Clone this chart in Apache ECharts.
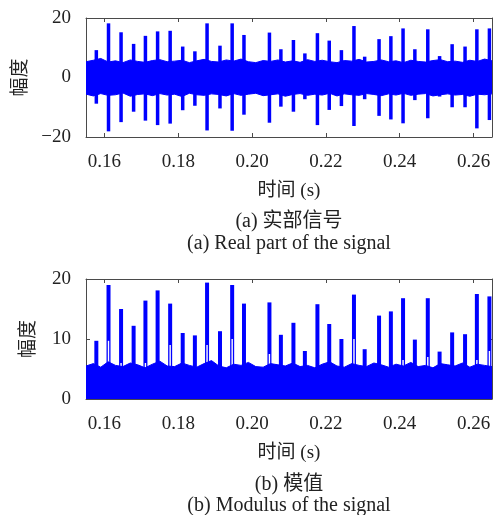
<!DOCTYPE html>
<html><head><meta charset="utf-8">
<script src="https://cdn.jsdelivr.net/npm/echarts@6/dist/echarts.min.js"></script>
<style>html,body{margin:0;padding:0;background:#fff}#c{width:497px;height:515px}</style>
</head><body><div id="c"></div>
<script>
// Spike (impulse) times, seconds
const spikeT = [0.1578,0.1611,0.1645,0.1679,0.1711,0.1744,0.1778,0.1812,0.1845,0.1878,0.1913,0.1946,0.1978,0.2047,0.2078,0.2112,0.2143,0.2177,0.2209,0.2242,0.2276,0.2305,0.2344,0.2376,0.2409,0.2441,0.2476,0.2508,0.2542,0.2577,0.2609,0.2643];
// Real part: positive and negative peaks of each spike
const realPeakUp = [9.2,18.2,15.2,11.3,14.0,15.5,15.7,10.4,8.8,18.2,10.7,18.2,14.3,15.1,9.5,12.6,8.1,14.9,12.4,9.2,17.3,7.0,12.9,13.9,16.5,9.5,16.2,7.2,11.2,10.4,16.2,16.5];
const realPeakDn = [-8.8,-18.1,-15.0,-11.5,-14.5,-16.0,-15.5,-11.0,-9.5,-17.8,-10.4,-17.9,-12.5,-15.2,-9.8,-11.5,-7.3,-16.0,-10.9,-9.6,-16.3,-7.3,-12.9,-14.1,-15.4,-7.6,-13.7,-6.4,-10.0,-10.0,-17.1,-14.3];
// Modulus: peak of each spike and height of the dip (white gap) beside it
const modPeak = [9.7,19.0,15.0,12.2,16.4,18.1,15.9,11.0,10.6,19.4,11.3,19.0,15.9,16.1,10.7,12.7,8.0,15.8,12.5,10.0,17.4,8.3,13.9,14.6,16.8,9.9,16.8,7.9,11.1,10.8,17.5,17.1];
const modDip = [1.0,9.7,6.0,1.7,6.0,6.0,9.0,2.0,1.7,9.0,2.0,10.0,4.3,7.5,1.5,4.0,1.5,4.0,2.5,1.5,10.0,1.0,4.0,3.5,6.5,1.0,7.0,1.0,2.5,2.5,6.5,8.0];
// Background noise envelope
const noiseT = [0.155,0.157,0.159,0.161,0.163,0.165,0.167,0.169,0.171,0.173,0.175,0.177,0.179,0.181,0.183,0.185,0.187,0.189,0.191,0.193,0.195,0.197,0.199,0.201,0.203,0.205,0.207,0.209,0.211,0.213,0.215,0.217,0.219,0.221,0.223,0.225,0.227,0.229,0.231,0.233,0.235,0.237,0.239,0.241,0.243,0.245,0.247,0.249,0.251,0.253,0.255,0.257,0.259,0.261,0.263,0.265];
const realNoiseUp = [5.3,5.8,6.4,5.2,5.6,5.0,5.9,5.4,5.1,5.7,6.0,5.3,5.5,5.8,5.0,5.6,6.1,5.4,5.2,5.9,5.5,6.2,5.3,5.0,5.7,5.4,5.9,5.2,5.6,5.1,6.0,5.4,5.8,5.3,5.0,5.7,5.5,6.1,5.2,5.4,5.9,5.3,5.6,5.0,5.8,5.4,5.2,5.7,6.0,5.3,5.5,5.1,5.8,5.4,6.2,5.6];
const realNoiseDn = [-5.6,-6.2,-5.4,-6.0,-5.8,-5.2,-6.3,-5.7,-5.5,-6.1,-5.4,-5.9,-5.6,-6.4,-5.3,-5.8,-6.0,-5.5,-5.7,-6.2,-5.4,-6.0,-5.6,-5.3,-6.1,-5.8,-5.5,-6.3,-5.7,-5.4,-6.0,-5.6,-5.9,-5.3,-6.2,-5.5,-5.8,-6.0,-5.4,-5.7,-6.1,-5.5,-5.9,-5.3,-6.0,-5.6,-5.4,-6.2,-5.8,-5.5,-5.9,-5.7,-6.3,-5.6,-5.8,-5.5];
const modNoiseUp = [5.5,5.9,5.3,6.2,5.6,5.4,6.0,5.7,5.2,5.8,6.3,5.5,5.4,6.0,5.6,5.3,5.9,6.4,5.5,5.2,5.8,5.6,6.1,5.4,5.3,5.9,5.7,5.5,6.0,5.4,5.6,5.2,5.8,6.2,5.5,5.3,5.9,5.6,5.4,6.0,5.7,5.3,5.8,5.5,6.1,5.4,5.6,5.2,5.9,5.7,5.5,6.0,5.3,5.8,5.6,5.4];
// Axis ticks / labels
const xTicks = [0.16,0.18,0.20,0.22,0.24,0.26];
const yTicksReal = [-20,0,20];
const yTicksMod = [0,10,20];
const xName = '时间 (s)';
const yName = '幅度';
const captions = ['(a) 实部信号','(a) Real part of the signal','(b) 模值','(b) Modulus of the signal'];

const BLUE = '#0000ff';
const AX = '#4a4a4a';
const FONT = '"Liberation Serif","Noto Sans CJK SC",serif';
const chart = echarts.init(document.getElementById('c'), null, {renderer:'canvas'});

function xAx(gi, bottom) {
  return {
    type:'value', gridIndex:gi, min:0.155, max:0.265, position: bottom?'bottom':'top',
    axisLine:{show:true, onZero:false, lineStyle:{color:AX, width:1}},
    axisTick:{show:true, inside:true, length:4, customValues:xTicks, lineStyle:{color:AX}},
    axisLabel:{show:bottom, customValues:xTicks, formatter:v=>v.toFixed(2), fontFamily:FONT, fontSize:19, color:'#222', margin:16},
    splitLine:{show:false},
    name: bottom ? xName : '', nameLocation:'middle', nameGap:45,
    nameTextStyle:{fontFamily:FONT, fontSize:19, color:'#222'}
  };
}
function yAx(gi, left, ticks) {
  return {
    type:'value', gridIndex:gi, min:ticks[0], max:ticks[2], interval:ticks[1]-ticks[0], position:left?'left':'right',
    axisLine:{show:true, onZero:false, lineStyle:{color:AX, width:1}},
    axisTick:{show:true, inside:true, length:4, lineStyle:{color:AX}},
    axisLabel:{show:left, formatter:v=>String(v).replace('-','\u2212'), fontFamily:FONT, fontSize:19, color:'#222', margin:15},
    splitLine:{show:false},
    name: left ? yName : '', nameLocation:'middle', nameRotate:90, nameGap:47,
    nameTextStyle:{fontFamily:FONT, fontSize:19, color:'#222'}
  };
}

const realSpikes = spikeT.map((t,i)=>[t, realPeakUp[i], realPeakDn[i]]);
const modSpikes = spikeT.map((t,i)=>[t, modPeak[i], modDip[i]]);

chart.setOption({
  animation:false,
  backgroundColor:'#fff',
  grid:[{left:86, top:18, width:406, height:119},{left:86, top:279, width:406, height:120}],
  xAxis:[xAx(0,true), xAx(0,false), xAx(1,true), xAx(1,false)],
  yAxis:[yAx(0,true,yTicksReal), yAx(0,false,yTicksReal), yAx(1,true,yTicksMod), yAx(1,false,yTicksMod)],
  title: captions.map((c,i)=>({text:c, left:284, textAlign:'center', top:[207,229,470,491][i],
    textStyle:{fontFamily:FONT, fontSize:20, fontWeight:'normal', color:'#222'}})),
  series:[
    {type:'line', xAxisIndex:0, yAxisIndex:0, data:noiseT.map((t,i)=>[t,realNoiseUp[i]]), symbol:'none',
      lineStyle:{color:BLUE, width:1}, areaStyle:{color:BLUE, opacity:1, origin:-3}},
    {type:'line', xAxisIndex:0, yAxisIndex:0, data:noiseT.map((t,i)=>[t,realNoiseDn[i]]), symbol:'none',
      lineStyle:{color:BLUE, width:1}, areaStyle:{color:BLUE, opacity:1, origin:3}},
    {type:'custom', xAxisIndex:0, yAxisIndex:0, data:realSpikes, clip:true,
      renderItem:(params, api)=>{
        const t=api.value(0);
        const a=api.coord([t, api.value(1)]), b=api.coord([t, api.value(2)]);
        return {type:'rect', shape:{x:a[0]-1.75, y:a[1], width:3.5, height:b[1]-a[1]}, style:{fill:BLUE}};
      }},
    {type:'line', xAxisIndex:2, yAxisIndex:2, data:noiseT.map((t,i)=>[t,modNoiseUp[i]]), symbol:'none',
      lineStyle:{color:BLUE, width:1}, areaStyle:{color:BLUE, opacity:1, origin:0}},
    {type:'custom', xAxisIndex:2, yAxisIndex:2, data:modSpikes, clip:true,
      renderItem:(params, api)=>{
        const t=api.value(0);
        const a=api.coord([t, api.value(1)]), z=api.coord([t, 0]), g=api.coord([t, api.value(2)]);
        return {type:'group', children:[
          {type:'rect', shape:{x:a[0]-2, y:a[1], width:4, height:z[1]-a[1]}, style:{fill:BLUE}},
          {type:'rect', shape:{x:a[0]-0.7, y:g[1], width:1.4, height:z[1]-g[1]}, style:{fill:'#fff'}}
        ]};
      }}
  ]
});
</script></body></html>
